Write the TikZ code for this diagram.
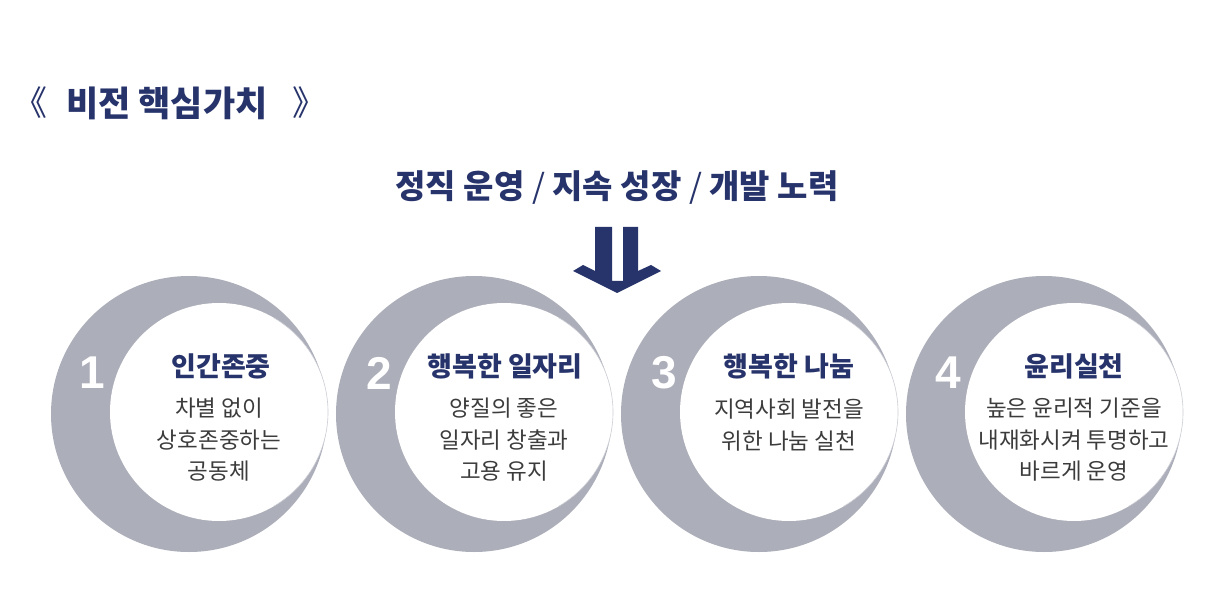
\documentclass[tikz,border=0pt]{standalone}
\usepackage{fontspec}
\setmainfont{Noto Sans CJK KR}
\newfontfamily\digitfont{Liberation Sans}
\definecolor{navy}{HTML}{27336B}
\definecolor{ringgray}{HTML}{ACAEB9}
\definecolor{bodytxt}{HTML}{3C3C3C}
\begin{document}
\begin{tikzpicture}[x=1pt,y=-1pt,
  outer/.style={fill=ringgray},
  inner/.style={fill=white},
  numtxt/.style={text=white,font=\digitfont\bfseries\fontsize{46}{50}\selectfont,inner sep=0pt},
  headtxt/.style={text=navy,font=\bfseries\fontsize{27}{32}\selectfont,inner sep=0pt},
  bodytext/.style={text=bodytxt,font=\fontsize{22.5}{31.5}\selectfont,align=center,inner sep=0pt},
  ]
\useasboundingbox (0,0) rectangle (1223,612);
\fill[white] (0,0) rectangle (1223,612);

% title
\node[text=navy,font=\fontsize{34}{38}\selectfont,inner sep=0pt,anchor=east] (tl) at (48,103) {《};
\node[text=navy,font=\bfseries\fontsize{35}{40}\selectfont,inner sep=0pt,anchor=west] (title) at (66,103) {비전 핵심가치};
\node[text=navy,font=\fontsize{34}{38}\selectfont,inner sep=0pt,anchor=west] (tr) at (292,103) {》};

% subtitle
\node[text=navy,font=\bfseries\fontsize{33}{38}\selectfont,inner sep=0pt] (sub) at (617,188)
  {정직 운영 {\mdseries/} 지속 성장 {\mdseries/} 개발 노력};

% circles
\foreach \i/\cx in {1/189,2/474,3/759,4/1044}{
  \fill[outer] (\cx,414) circle (138);
  \fill[inner] (\cx+30,412) circle (109);
  \draw[ringgray!60,line width=0.6pt] (\cx+30,412) ++(-60:109) arc (-60:60:109);
}

% arrow
\fill[navy] (595,227) -- (612,227) -- (612,281) -- (623,281) -- (623,227) -- (638,227)
  -- (638,271) -- (651,265) -- (661,271) -- (617,293) -- (573,271) -- (583,265)
  -- (595,271) -- cycle;

% numbers
\node[numtxt] (n1) at (92,373) {1};
\node[numtxt] (n2) at (379,373) {2};
\node[numtxt] (n3) at (664,373) {3};
\node[numtxt] (n4) at (948,373) {4};

% headings
\node[headtxt] (h1) at (221,366) {인간존중};
\node[headtxt] (h2) at (505,366) {행복한 일자리};
\node[headtxt] (h3) at (789,366) {행복한 나눔};
\node[headtxt] (h4) at (1074,366) {윤리실천};

% bodies
\node[bodytext] (b1) at (219,440) {차별 없이\\상호존중하는\\공동체};
\node[bodytext] (b2) at (504,440) {양질의 좋은\\일자리 창출과\\고용 유지};
\node[bodytext] (b3) at (789,425) {지역사회 발전을\\위한 나눔 실천};
\node[bodytext] (b4) at (1074,440) {높은 윤리적 기준을\\내재화시켜 투명하고\\바르게 운영};
\end{tikzpicture}
\end{document}
